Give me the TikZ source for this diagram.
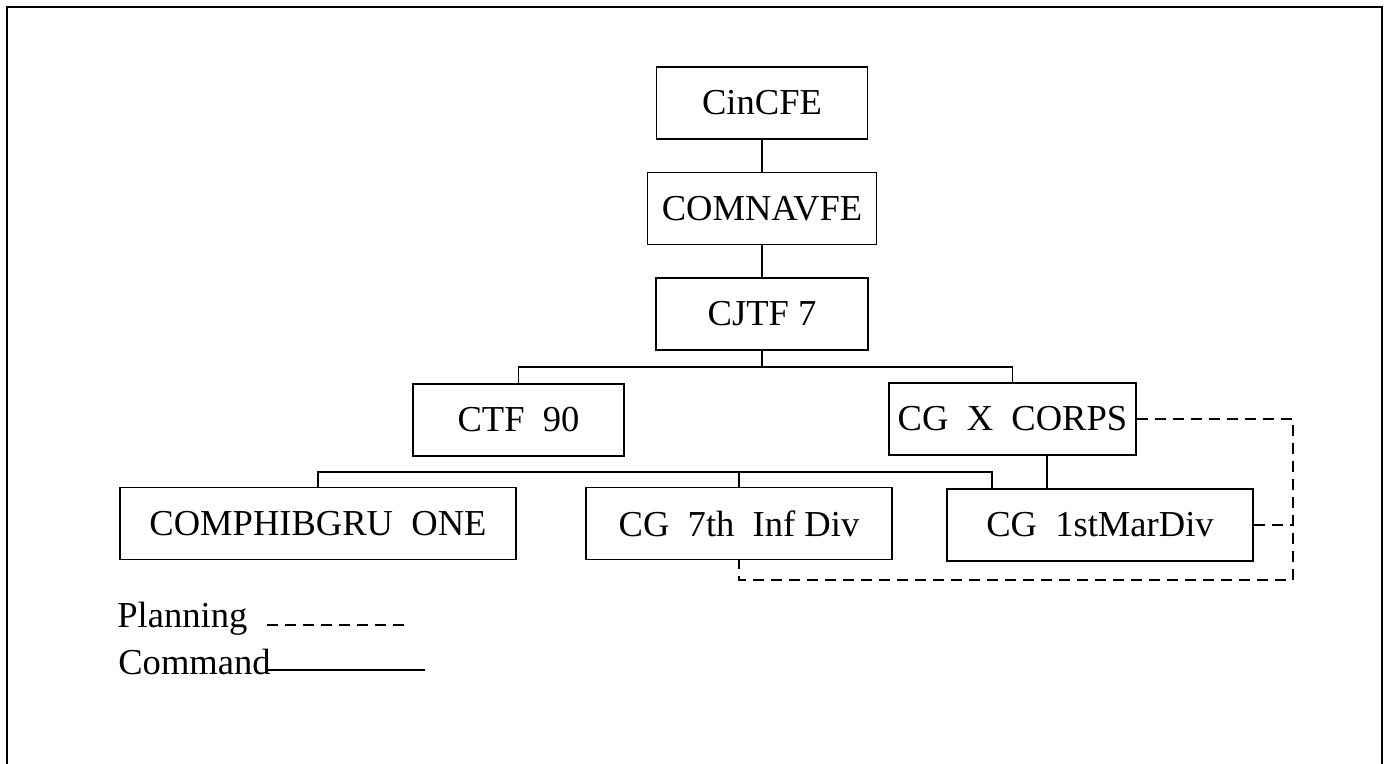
\documentclass[tikz,border=0pt]{standalone}
\usepackage{fontspec}
\setmainfont{Liberation Serif}
\begin{document}
\begin{tikzpicture}[label text/.style = {font = \fontsize{20.8}{25}\selectfont}, unit/.style = {label text, draw, line width = 0.85pt, minimum height = 1.44cm, inner sep = 0pt}, cmd/.style = {line width = 0.85pt}, plan/.style = {line width = 0.85pt, dash pattern = on 0.22cm off 0.14cm}]
		\useasboundingbox (0,0) rectangle (27.68,15.28);
		\draw [line width = 1.2pt] (0.14,-0.3) -- (0.14,15.14) -- (27.64,15.14) -- (27.64,-0.3);
		\node [unit, minimum width = 4.22cm](cincfe) at (15.24,13.22) {CinCFE};
		\node [unit, minimum width = 4.58cm](comnavfe) at (15.24,11.11) {COMNAVFE};
		\node [unit, minimum width = 4.24cm](cjtf) at (15.24,9.00) {CJTF 7};
		\node [unit, minimum width = 4.22cm](ctf) at (10.37,6.88) {CTF~~90};
		\node [unit, minimum width = 4.94cm](xcorps) at (20.25,6.90) {CG~~X~~CORPS};
		\node [unit, minimum width = 7.92cm](phib) at (6.36,4.81) {COMPHIBGRU~~ONE};
		\node [unit, minimum width = 6.12cm](infdiv) at (14.78,4.81) {CG~~7th~~Inf Div};
		\node [unit, minimum width = 6.12cm](mardiv) at (22.00,4.78) {CG~~1stMarDiv};
		\coordinate (upper) at (0,7.94);
		\coordinate (lower) at (19.84,5.84);
		\coordinate (xleg) at (20.94,0);
		\coordinate (planx) at (25.86,3.68);
		\draw [cmd] (cincfe) -- (comnavfe);
		\draw [cmd] (comnavfe) -- (cjtf);
		\draw [cmd] (cjtf.south) -- (cjtf.south |- upper);
		\draw [cmd] (ctf.north) |- (xcorps.north |- upper) -- (xcorps.north);
		\draw [cmd] (phib.north) |- (lower) -- (lower |- mardiv.north);
		\draw [cmd] (infdiv.north) -- (infdiv.north |- lower);
		\draw [cmd] (xleg |- xcorps.south) -- (xleg |- mardiv.north);
		\draw [plan] (xcorps.east) -| (planx) -| (infdiv.south);
		\draw [plan] (mardiv.east) -- (mardiv.east -| planx);
		\node [label text, anchor = base west, inner sep = 0pt](planning) at (2.34,2.72) {Planning};
		\node [label text, anchor = base west, inner sep = 0pt](command) at (2.36,1.78) {Command};
		\coordinate (planA) at (5.34,2.78);
		\coordinate (planB) at (8.10,2.78);
		\coordinate (cmdA) at (5.34,1.88);
		\coordinate (cmdB) at (8.50,1.88);
		\draw [plan] (planA) -- (planB);
		\draw [cmd] (cmdA) -- (cmdB);
\end{tikzpicture}
\end{document}
